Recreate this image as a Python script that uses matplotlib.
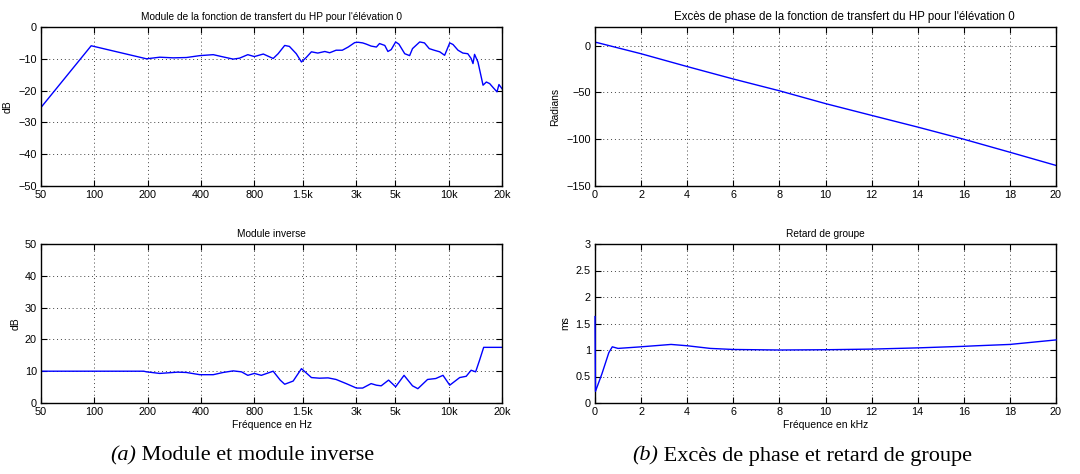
import matplotlib
matplotlib.use("Agg")
import matplotlib.pyplot as plt

plt.rcParams['font.family'] = ['Liberation Sans', 'DejaVu Sans']
plt.rcParams['axes.unicode_minus'] = True

# --- Module de la fonction de transfert (Hz, dB)
mag_freq = [50, 96, 197, 234, 279, 331, 394, 469, 533, 608, 660, 735, 800, 899,
            1022, 1090, 1187, 1262, 1380, 1476, 1570, 1680, 1825, 2000, 2130,
            2315, 2510, 2710, 2950, 3080, 3270, 3434, 3650, 3910, 4070, 4360,
            4540, 4740, 5020, 5240, 5650, 6020, 6250, 6865, 7300, 7770, 8280,
            8900, 9490, 10140, 10580, 11290, 12030, 12820, 13390, 13720, 14000,
            14630, 15630, 16320, 17040, 17790, 18740, 19220, 20000]
mag_db = [-25.3, -5.9, -10.0, -9.5, -9.7, -9.6, -9.0, -8.7, -9.4, -10.1, -9.8,
          -8.7, -9.3, -8.5, -9.9, -8.4, -5.8, -6.1, -8.4, -11.0, -9.6, -7.8,
          -8.2, -7.7, -8.1, -7.3, -7.3, -6.3, -4.9, -4.8, -5.0, -5.4, -6.0,
          -6.3, -5.2, -5.8, -7.7, -7.1, -4.7, -5.4, -8.4, -9.0, -6.8, -4.7,
          -5.0, -6.8, -7.3, -7.8, -8.9, -5.0, -5.5, -7.3, -8.2, -8.4, -9.9,
          -11.5, -8.6, -11.0, -18.3, -17.3, -17.8, -19.0, -20.4, -18.1, -19.4]

# --- Module inverse (Hz, dB)
inv_freq = [50, 100, 190, 197, 234, 295, 331, 394, 469, 533, 608, 677, 735, 800,
            876, 1022, 1120, 1187, 1325, 1476, 1680, 1865, 2086, 2315, 2640,
            3016, 3270, 3650, 3910, 4160, 4580, 5020, 5600, 6250, 6700, 7600,
            8460, 9290, 10140, 11540, 12560, 13390, 14200, 14950, 15760, 20000]
inv_db = [10.0, 10.0, 10.0, 9.8, 9.3, 9.7, 9.6, 8.9, 8.9, 9.6, 10.1, 9.8, 8.7,
          9.3, 8.7, 10.0, 7.2, 5.9, 6.9, 10.8, 8.0, 7.8, 7.9, 7.4, 6.1, 4.7,
          4.7, 6.1, 5.6, 5.4, 7.2, 5.1, 8.7, 5.4, 4.5, 7.4, 7.7, 8.7, 5.6, 8.0,
          8.4, 10.3, 9.8, 13.5, 17.5, 17.5]

# --- Excès de phase (kHz, rad)
phase_khz = [0.0, 0.05, 2, 4, 6, 8, 10, 12, 14, 16, 18, 20]
phase_rad = [2.0, 3.6, -8.6, -22.3, -35.6, -48.2, -61.9, -74.5, -87.0, -100.0,
             -113.9, -128.0]

# --- Retard de groupe (kHz, ms)
gd_khz = [0.0, 0.02, 0.3, 0.6, 0.75, 1.0, 2.0, 3.3, 4.0, 5.0, 6.0, 8.0, 10.0,
          12.0, 14.0, 16.0, 18.0, 20.0]
gd_ms = [1.63, 0.22, 0.55, 0.95, 1.06, 1.03, 1.06, 1.105, 1.08, 1.03, 1.01,
         1.0, 1.005, 1.017, 1.04, 1.07, 1.105, 1.19]

log_ticks = [50, 100, 200, 400, 800, 1500, 3000, 5000, 10000, 20000]
log_labels = ['50', '100', '200', '400', '800', '1.5k', '3k', '5k', '10k', '20k']

W, H = 1080, 474
fig = plt.figure(figsize=(W / 100, H / 100), dpi=100)


def box(x0, y0, x1, y1):
    return [x0 / W, 1 - y1 / H, (x1 - x0) / W, (y1 - y0) / H]


ax_mag = fig.add_axes(box(41, 27, 502, 186))
ax_inv = fig.add_axes(box(41, 244, 502, 403))
ax_ph = fig.add_axes(box(595, 27, 1056, 186))
ax_gd = fig.add_axes(box(595, 244, 1056, 403))

blue = (0.0, 0.0, 1.0)
lw = 1.0

ax_mag.plot(mag_freq, mag_db, color=blue, lw=lw)
ax_inv.plot(inv_freq, inv_db, color=blue, lw=lw)
ax_ph.plot(phase_khz, phase_rad, color=blue, lw=lw)
ax_gd.plot(gd_khz, gd_ms, color=blue, lw=lw, clip_on=False, zorder=3)

for ax in (ax_mag, ax_inv):
    ax.set_xscale('log')
    ax.set_xlim(50, 20000)
    ax.set_xticks(log_ticks)
    ax.set_xticklabels(log_labels)
    ax.minorticks_off()

ax_mag.set_ylim(-50, 0)
ax_mag.set_yticks([-50, -40, -30, -20, -10, 0])
ax_inv.set_ylim(0, 50)
ax_inv.set_yticks([0, 10, 20, 30, 40, 50])

for ax in (ax_ph, ax_gd):
    ax.set_xlim(0, 20)
    ax.set_xticks(range(0, 21, 2))
ax_ph.set_ylim(-150, 20)
ax_ph.set_yticks([-150, -100, -50, 0])
ax_gd.set_ylim(0, 3)
ax_gd.set_yticks([0, 0.5, 1, 1.5, 2, 2.5, 3])
ax_gd.set_yticklabels(['0', '0.5', '1', '1.5', '2', '2.5', '3'])

for ax in (ax_mag, ax_inv, ax_ph, ax_gd):
    ax.grid(True, linestyle=(0, (1, 3)), color='#444444', linewidth=0.7)
    ax.tick_params(direction='in', length=4, width=0.8, top=True, right=True,
                   labelsize=7.8, colors='black', pad=3)
    for s in ax.spines.values():
        s.set_linewidth(1.0)

title_kw = dict(fontsize=7.3, pad=5)
ax_mag.set_title("Module de la fonction de transfert du HP pour l'élévation 0", **title_kw)
ax_inv.set_title("Module inverse", **title_kw)
ax_ph.set_title("Excès de phase de la fonction de transfert du HP pour l'élévation 0",
                fontsize=8.3, pad=5, loc='left', x=(674 - 595) / 461)
ax_gd.set_title("Retard de groupe", **title_kw)

ax_mag.set_ylabel('dB', fontsize=7.5)
ax_inv.set_ylabel('dB', fontsize=7.5)
ax_ph.set_ylabel('Radians', fontsize=7.5)
ax_gd.set_ylabel('ms', fontsize=7.5)
ax_mag.yaxis.set_label_coords(-0.061, 0.5)
ax_inv.yaxis.set_label_coords(-0.045, 0.5)
ax_ph.yaxis.set_label_coords(-0.076, 0.5)
ax_gd.yaxis.set_label_coords(-0.054, 0.5)
ax_inv.set_xlabel('Fréquence en Hz', fontsize=7.5, labelpad=2)
ax_gd.set_xlabel('Fréquence en kHz', fontsize=7.5, labelpad=2)

# Sub-figure captions: italic letter followed by upright text
serif = ['Liberation Serif', 'DejaVu Serif']
cap_y = 1 - 456 / H
fig.canvas.draw()
renderer = fig.canvas.get_renderer()
for cx, letter, text in ((242, 'a', 'Module et module inverse'),
                         (802, 'b', 'Excès de phase et retard de groupe')):
    t1 = fig.text(0, cap_y, f'({letter})', family=serif, style='italic',
                  fontsize=16, va='center')
    t2 = fig.text(0, cap_y, ' ' + text, family=serif, fontsize=16,
                  va='center')
    w1 = t1.get_window_extent(renderer).width
    w2 = t2.get_window_extent(renderer).width
    x0 = cx - (w1 + w2) / 2
    t1.set_x(x0 / W)
    t2.set_x((x0 + w1) / W)

fig.savefig('out.png', dpi=100)
